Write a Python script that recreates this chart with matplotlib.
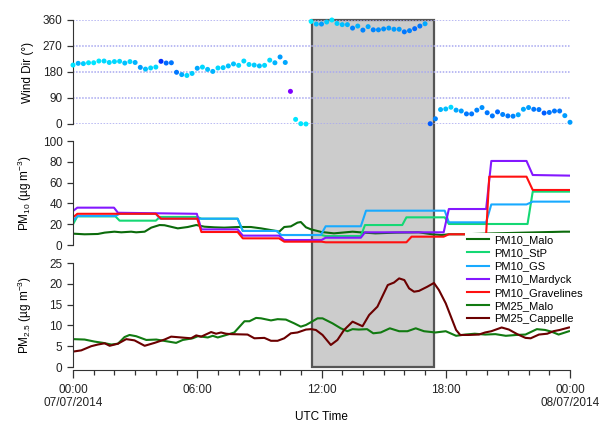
import numpy as np
import matplotlib
matplotlib.use('Agg')
import matplotlib.pyplot as plt
import matplotlib.transforms as mtransforms
from matplotlib.colors import LinearSegmentedColormap
from matplotlib.patches import Rectangle

plt.rcParams['font.family'] = ['Liberation Sans', 'DejaVu Sans']
plt.rcParams['mathtext.default'] = 'regular'

# Wind direction, every 15 min from 00:00 to 24:00 (97 points)
wind_hours = np.arange(97) * 0.25
wind_dir = [204, 210, 209, 212, 212, 218, 218, 213, 216, 217, 211, 216, 213, 196, 190, 194,
            197, 217, 211, 212, 179, 171, 168, 175, 193, 197, 189, 182, 194, 195, 201, 208,
            203, 218, 206, 204, 201, 203, 221, 212, 232, 213, 113, 16, 1, 0,
            355, 346, 346, 353, 360, 348, 344, 344, 332, 339, 325, 337, 326, 326, 329, 332,
            328, 328, 319, 323, 330, 339, 347, 1, 18,
            50, 52, 58, 48, 45, 35, 35, 48, 57, 39, 28, 42, 33, 28, 27, 32, 51, 57, 51, 50,
            38, 40, 45, 45, 29, 6]
# colour value of each wind point (speed-like scale, 0 = cyan, 1 = purple)
wind_col = [0.05, 0.25, 0.15, 0.05, 0.05, 0.05, 0.1, 0.1, 0.1, 0.1, 0.2, 0.1, 0.25, 0.35, 0.2, 0.1,
            0.1, 0.75, 0.55, 0.5, 0.5, 0.3, 0.1, 0.15, 0.3, 0.1, 0.2, 0.25, 0.1, 0.15, 0.2, 0.2,
            0.1, 0.1, 0.1, 0.15, 0.2, 0.1, 0.1, 0.25, 0.35, 0.3, 1.0, 0.05, 0.05, 0.05,
            0.0, 0.2, 0.35, 0.15, 0.05, 0.15, 0.2, 0.25, 0.45, 0.25, 0.45, 0.3, 0.45, 0.4, 0.4, 0.35,
            0.35, 0.35, 0.5, 0.45, 0.55, 0.5, 0.3, 0.6, 0.45,
            0.25, 0.2, 0.1, 0.3, 0.35, 0.5, 0.5, 0.45, 0.4, 0.5, 0.5, 0.55, 0.45, 0.5, 0.45, 0.3,
            0.3, 0.35, 0.5, 0.5, 0.6, 0.5, 0.5, 0.5, 0.35, 0.35]

# PM10 stations (hours, ug/m3)
malo10_h = [0, 0.56, 1.2, 1.53, 2.0, 2.33, 2.81, 3.05, 3.46, 3.78, 4.18, 4.42, 5.06, 5.54, 5.95,
            6.35, 6.83, 7.31, 7.95, 8.59, 9.08, 9.72, 9.96, 10.2, 10.52, 10.84, 11.0, 11.25, 11.5,
            12.0, 12.6, 13.5, 14.0, 14.6, 15.6, 16.7, 17.35, 17.8, 18.15, 18.9, 20.0, 22.0, 23.7, 24]
malo10_v = [10.9, 10.3, 10.6, 11.9, 12.8, 12.2, 12.8, 12.2, 12.8, 16.7, 19.2, 19.0, 16.0, 17.3, 19.2,
            17.6, 17.0, 16.7, 17.3, 17.3, 16.0, 13.8, 12.8, 17.3, 17.9, 21.5, 22.1, 17.0, 15.0,
            12.5, 11.2, 12.8, 12.0, 11.2, 11.9, 12.2, 10.3, 9.6, 10.3, 10.3, 11.0, 12.0, 12.8, 12.8]

stp_h = [0, 0.21, 2.05, 2.25, 4.0, 4.2, 6.0, 6.2, 7.95, 8.2, 9.85, 10.05, 12.0, 12.2, 13.9, 14.1,
         15.9, 16.1, 17.95, 18.15, 21.95, 22.2, 24]
stp_v = [19.9, 27.5, 27.5, 23.4, 23.4, 27.0, 27.0, 25.3, 25.3, 13.5, 13.5, 9.6, 9.6, 8.6, 8.6, 19.2,
         19.2, 26.6, 26.6, 20.2, 20.2, 51.3, 51.3]

gs_h = [0, 0.21, 2.05, 2.25, 4.0, 4.2, 7.95, 8.2, 9.85, 10.05, 11.97, 12.2, 13.9, 14.15, 17.95, 18.15,
        19.95, 20.2, 21.9, 22.2, 24]
gs_v = [23.0, 27.9, 27.9, 30.0, 30.0, 25.3, 25.3, 13.5, 13.5, 9.6, 9.6, 18.0, 18.0, 33.0, 33.0, 21.8,
        21.8, 39.0, 39.0, 41.7, 41.7]

mardyck_h = [0, 0.21, 1.98, 2.17, 5.98, 6.2, 7.95, 8.2, 9.95, 10.2, 12.0, 12.2, 13.9, 14.1, 17.9, 18.15,
             19.95, 20.2, 21.9, 22.2, 24]
mardyck_v = [32.7, 35.9, 35.9, 31.0, 30.0, 15.0, 15.0, 9.0, 9.0, 4.8, 4.8, 7.0, 7.0, 12.2, 12.2, 34.6,
             34.6, 80.8, 80.8, 67.3, 66.7]

grav_h = [0, 0.21, 4.0, 4.25, 6.0, 6.2, 7.95, 8.2, 9.95, 10.2, 12.0, 12.2, 16.1, 16.35, 17.9, 18.15,
          19.95, 20.1, 21.9, 22.2, 24]
grav_v = [26.6, 30.0, 30.0, 25.3, 25.3, 12.5, 12.5, 6.4, 6.4, 3.2, 3.2, 2.6, 2.6, 8.0, 8.0, 10.3,
          10.3, 65.7, 65.7, 52.9, 52.9]

# PM2.5 stations
malo25_h = [0, 0.56, 1.05, 1.45, 1.85, 2.17, 2.49, 2.73, 3.05, 3.54, 4.02, 4.5, 4.98, 5.3, 5.78, 6.03,
            6.51, 6.75, 6.99, 7.47, 7.79, 8.28, 8.52, 8.84, 9.08, 9.56, 9.88, 10.28, 10.68, 11.0, 11.25,
            11.5, 11.81, 12.05, 12.53, 12.93, 13.25, 13.5, 13.8, 14.2, 14.5, 14.86, 15.3, 15.75, 16.15,
            16.55, 16.95, 17.5, 18.0, 18.5, 18.95, 19.4, 19.9, 20.4, 20.9, 21.4, 21.85, 22.4, 22.8,
            23.1, 23.45, 23.95]
malo25_v = [6.7, 6.6, 6.1, 5.8, 5.4, 5.6, 7.2, 7.7, 7.4, 6.5, 6.6, 6.2, 5.8, 6.5, 6.9, 7.4,
            7.1, 7.5, 7.1, 7.8, 8.3, 11.0, 11.0, 11.8, 11.7, 11.2, 11.5, 11.4, 10.5, 9.7, 10.1,
            10.8, 11.7, 11.7, 10.5, 9.3, 8.6, 9.1, 9.0, 9.1, 8.1, 8.3, 9.3, 8.6, 8.6,
            9.3, 8.6, 8.3, 8.6, 7.5, 7.8, 8.0, 7.8, 7.9, 7.5, 7.7, 7.8, 9.1, 8.9,
            8.5, 7.8, 8.6]

capp25_h = [0, 0.4, 0.88, 1.2, 1.53, 1.77, 2.17, 2.57, 2.97, 3.46, 3.94, 4.42, 4.74, 5.22, 5.7, 5.95,
            6.19, 6.67, 6.91, 7.15, 7.39, 7.63, 8.43, 8.76, 9.24, 9.56, 9.88, 10.2, 10.52, 10.84, 11.25,
            11.5, 11.73, 12.05, 12.45, 12.77, 13.09, 13.5, 13.98, 14.3, 14.7, 15.2, 15.5, 15.75, 16.0,
            16.23, 16.47, 16.71, 17.11, 17.43, 17.67, 18.0, 18.5, 18.7, 19.1, 19.6, 19.9, 20.2, 20.7,
            21.05, 21.45, 21.85, 22.1, 22.5, 22.9, 23.2, 23.5, 23.95]
capp25_v = [3.7, 4.0, 5.0, 5.4, 5.7, 5.1, 5.6, 6.7, 6.4, 5.1, 5.8, 6.6, 7.3, 7.1, 6.9, 7.6,
            7.3, 8.4, 8.0, 8.3, 8.0, 7.9, 7.8, 6.9, 7.0, 6.3, 6.3, 6.9, 8.1, 8.3, 9.0,
            9.1, 8.9, 7.7, 5.3, 6.5, 8.9, 10.9, 9.8, 12.5, 14.5, 19.7, 20.3, 21.3, 20.9,
            18.9, 18.1, 18.3, 19.3, 20.2, 18.5, 15.3, 8.9, 7.7, 7.7, 7.8, 8.3, 8.6, 9.5,
            9.0, 7.9, 7.0, 6.9, 7.8, 8.0, 8.6, 8.9, 9.5]

box_start, box_end = 11.52, 17.43

fig = plt.figure(figsize=(6.09, 4.28), dpi=100)
L, W, H = 73 / 609, 497 / 609, 104 / 428
ax_wd = fig.add_axes([L, 1 - 124 / 428, W, H])
ax_10 = fig.add_axes([L, 1 - 245 / 428, W, H])
ax_25 = fig.add_axes([L, 1 - 367 / 428, W, H])

for ax in (ax_wd, ax_10, ax_25):
    ax.set_facecolor('none')
    ax.set_xlim(0, 24)
    for s in ('top', 'right', 'bottom'):
        ax.spines[s].set_visible(False)
    ax.spines['left'].set_color('#333333')
    ax.tick_params(axis='y', direction='out', length=4.5, width=0.9, color='#333333',
                   labelsize=8.5, pad=3, labelcolor='#222222')
    ax.yaxis.set_label_coords(-0.078, 0.5)
ax_wd.set_xticks([])
ax_10.set_xticks([])

# grey period box spanning the three panels
trans = mtransforms.blended_transform_factory(ax_25.transData, fig.transFigure)
rect = Rectangle((box_start, 1 - 367 / 428), box_end - box_start, 347 / 428, transform=trans,
                 facecolor='#cccccc', edgecolor='#555555', lw=1.6, zorder=-1)
fig.add_artist(rect)

# wind direction
cmap = LinearSegmentedColormap.from_list('wd', ['#00f0ff', '#00b4ff', '#0078ff', '#0030ff', '#8000ff'])
for y in (0, 90, 180, 270, 360):
    ax_wd.axhline(y, color='#a8a8f0', ls=(0, (1, 1)), lw=1.1, zorder=0)
ax_wd.scatter(wind_hours, wind_dir, c=wind_col, cmap=cmap, vmin=0, vmax=1, s=13,
              linewidths=0, clip_on=False, zorder=3)
ax_wd.set_ylim(0, 360)
ax_wd.set_yticks([0, 90, 180, 270, 360])
ax_wd.set_ylabel('Wind Dir (°)', fontsize=8.5)

# PM10
lines = []
lines += ax_10.plot(malo10_h, malo10_v, color='#0b6b0b', lw=1.5, label='PM10_Malo')
lines += ax_10.plot(stp_h, stp_v, color='#14d874', lw=1.5, label='PM10_StP')
lines += ax_10.plot(gs_h, gs_v, color='#18aaff', lw=1.5, label='PM10_GS')
lines += ax_10.plot(mardyck_h, mardyck_v, color='#8418ff', lw=1.5, label='PM10_Mardyck')
lines += ax_10.plot(grav_h, grav_v, color='#ff1010', lw=1.5, label='PM10_Gravelines')
ax_10.set_ylim(0, 100)
ax_10.set_yticks([0, 20, 40, 60, 80, 100])
ax_10.set_ylabel('PM$_{10}$ (µg m$^{-3}$)', fontsize=8.5)

# PM2.5
lines += ax_25.plot(malo25_h, malo25_v, color='#117a11', lw=1.5, label='PM25_Malo')
lines += ax_25.plot(capp25_h, capp25_v, color='#6b0000', lw=1.5, label='PM25_Cappelle')
ax_25.set_ylim(0, 25)
ax_25.set_yticks([0, 5, 10, 15, 20, 25])
ax_25.set_ylabel('PM$_{2.5}$ (µg m$^{-3}$)', fontsize=8.5)

ax_25.spines['bottom'].set_visible(True)
ax_25.spines['bottom'].set_color('#333333')
ax_25.spines['bottom'].set_position(('outward', 2))
ax_25.set_xticks([0, 6, 12, 18, 24])
ax_25.set_xticklabels(['00:00\n07/07/2014', '06:00', '12:00', '18:00', '00:00\n08/07/2014'])
ax_25.set_xticks(np.arange(0, 25, 1), minor=True)
ax_25.tick_params(axis='x', which='major', direction='out', length=6, width=0.9, color='#333333',
                  labelsize=8.5, pad=4, labelcolor='#222222')
ax_25.tick_params(axis='x', which='minor', direction='out', length=3.5, width=0.9, color='#333333')
ax_25.set_xlabel('UTC Time', fontsize=8.5)
ax_25.xaxis.set_label_coords(0.5, -0.42)

fig.legend(lines, [l.get_label() for l in lines], loc='upper left',
           bbox_to_anchor=(465 / 609, 1 - 233 / 428), frameon=True, facecolor='white',
           edgecolor='none', fancybox=False, framealpha=1, fontsize=8, handlelength=2.0,
           handletextpad=0.45, labelspacing=0.28, borderpad=0.2, borderaxespad=0)

fig.savefig('out.png', dpi=100)
